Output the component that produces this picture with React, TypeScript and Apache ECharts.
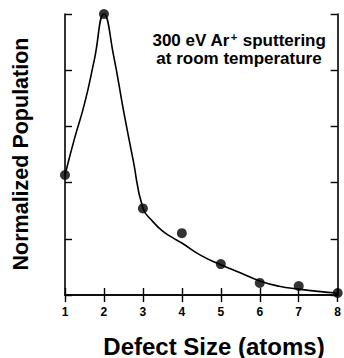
import React, { useEffect, useRef } from "react";
import * as echarts from "echarts";

const xTicks = [1, 2, 3, 4, 5, 6, 7, 8];
const pointX = [1, 2, 3, 4, 5, 6, 7, 8];
const pointY = [0.427, 1.0, 0.308, 0.22, 0.11, 0.043, 0.032, 0.007];
const curveX = [1, 1.25, 1.5, 1.75, 2, 2.25, 2.5, 2.75, 3, 3.25, 3.5, 3.75, 4, 4.5, 5, 5.5, 6, 6.5, 7, 7.5, 8];
const curveY = [0.427, 0.56, 0.68, 0.835, 1.0, 0.85, 0.658, 0.48, 0.31, 0.262, 0.228, 0.205, 0.185, 0.14, 0.108, 0.079, 0.05, 0.031, 0.021, 0.013, 0.007];
const xTitle = "Defect Size (atoms)";
const yTitle = "Normalized Population";

const FONT = "Liberation Sans, Arial, sans-serif";

export default function App() {
  const ref = useRef<HTMLDivElement>(null);
  useEffect(() => {
    if (!ref.current) return;
    const chart = echarts.init(ref.current, null, { renderer: "svg" });
    const axisLine = { show: true, lineStyle: { color: "#000", width: 1.6 } };
    const tick = { show: true, inside: true, length: 7, lineStyle: { color: "#000", width: 1.4 } };
    chart.setOption({
      animation: false,
      backgroundColor: "#fff",
      grid: { left: 65, right: 6, top: 14, bottom: 63, containLabel: false },
      xAxis: [
        {
          type: "value",
          min: 1,
          max: 8,
          interval: 1,
          axisLine,
          axisTick: tick,
          splitLine: { show: false },
          axisLabel: {
            show: true,
            margin: 11,
            color: "#000",
            fontFamily: FONT,
            fontWeight: "bold",
            fontSize: 12,
            formatter: (v: number) => (xTicks.includes(v) ? String(v) : ""),
          },
        },
        {
          type: "value",
          position: "top",
          min: 1,
          max: 8,
          interval: 1,
          axisLine,
          axisTick: tick,
          splitLine: { show: false },
          axisLabel: { show: false },
        },
      ],
      yAxis: [
        {
          type: "value",
          min: 0,
          max: 1,
          interval: 0.2,
          axisLine,
          axisTick: tick,
          splitLine: { show: false },
          axisLabel: { show: false },
        },
        {
          type: "value",
          position: "right",
          min: 0,
          max: 1,
          interval: 0.2,
          axisLine,
          axisTick: tick,
          splitLine: { show: false },
          axisLabel: { show: false },
        },
      ],
      series: [
        {
          type: "line",
          data: curveX.map((x, i) => [x, curveY[i]]),
          smooth: 0.5,
          symbol: "none",
          clip: false,
          lineStyle: { color: "#000", width: 1.6 },
          z: 2,
        },
        {
          type: "scatter",
          data: pointX.map((x, i) => [x, pointY[i]]),
          symbol: "circle",
          symbolSize: 10,
          clip: false,
          itemStyle: { color: "#000" },
          z: 3,
        },
      ],
      graphic: [
        {
          type: "text",
          x: 214,
          y: 346,
          style: {
            text: xTitle,
            fontFamily: FONT,
            fontWeight: "bold",
            fontSize: 24,
            fill: "#000",
            align: "center",
            verticalAlign: "middle",
          },
        },
        {
          type: "text",
          x: 21,
          y: 154,
          rotation: Math.PI / 2,
          style: {
            text: yTitle,
            fontFamily: FONT,
            fontWeight: "bold",
            fontSize: 21.5,
            fill: "#000",
            align: "center",
            verticalAlign: "middle",
          },
        },
        {
          type: "text",
          x: 239,
          y: 40,
          style: {
            text: "{a|300 eV Ar}{s|+}{a| sputtering}",
            align: "center",
            verticalAlign: "middle",
            rich: {
              a: { fontFamily: FONT, fontWeight: "bold", fontSize: 17, lineHeight: 17, fill: "#000", color: "#000" },
              s: { fontFamily: FONT, fontWeight: "bold", fontSize: 11, lineHeight: 17, fill: "#000", color: "#000", verticalAlign: "top", padding: [0, 1, 0, 1] },
            },
          },
        },
        {
          type: "text",
          x: 239,
          y: 58,
          style: {
            text: "at room temperature",
            fontFamily: FONT,
            fontWeight: "bold",
            fontSize: 17,
            fill: "#000",
            align: "center",
            verticalAlign: "middle",
          },
        },
      ],
    });
    return () => chart.dispose();
  }, []);
  return <div ref={ref} style={{ width: 344, height: 358, position: "absolute", left: 0, top: 0 }} />;
}
